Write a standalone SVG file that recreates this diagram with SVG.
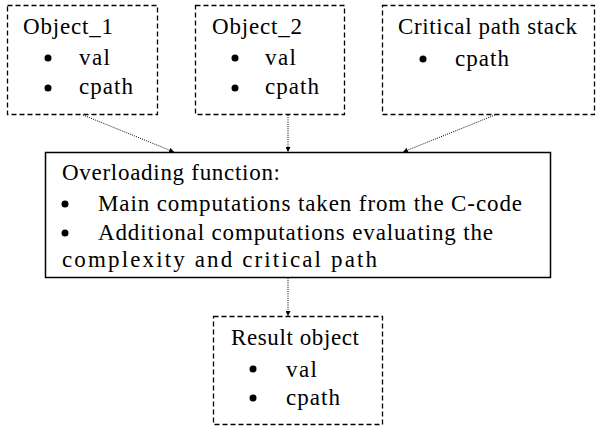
<svg xmlns="http://www.w3.org/2000/svg" width="600" height="426" viewBox="0 0 600 426">
  <style>
    .dash { fill: #fff; stroke: #000; stroke-width: 1.3; stroke-dasharray: 5 3; }
    .solid { fill: #fff; stroke: #000; stroke-width: 1.5; }
    .t { font-family: 'Liberation Serif', 'Times New Roman', serif; font-size: 23px; fill: #000; }
    .link { fill: none; stroke: #000; stroke-width: 1; stroke-dasharray: 1 1.2; }
  </style>
  <defs>
    <marker id="arrow" viewBox="0 0 10 10" refX="10" refY="5" markerWidth="5" markerHeight="5" orient="auto" markerUnits="userSpaceOnUse">
      <path d="M0,0 L10,5 L0,10 z" fill="#000"/>
    </marker>
  </defs>
  <rect width="600" height="426" fill="#fff"/>

  <g id="object1">
    <rect class="dash" x="7.5" y="5.5" width="150" height="109"/>
    <text class="t" x="23" y="34" textLength="90" lengthAdjust="spacing">Object_1</text>
    <circle cx="48" cy="58" r="3.5"/>
    <text class="t" x="79" y="65" textLength="31" lengthAdjust="spacing">val</text>
    <circle cx="48" cy="88" r="3.5"/>
    <text class="t" x="79" y="94" textLength="54" lengthAdjust="spacing">cpath</text>
  </g>

  <g id="object2">
    <rect class="dash" x="195.5" y="5.5" width="149" height="109"/>
    <text class="t" x="212" y="34" textLength="90" lengthAdjust="spacing">Object_2</text>
    <circle cx="235" cy="58" r="3.5"/>
    <text class="t" x="265" y="65" textLength="31" lengthAdjust="spacing">val</text>
    <circle cx="235" cy="88" r="3.5"/>
    <text class="t" x="265" y="94" textLength="54" lengthAdjust="spacing">cpath</text>
  </g>

  <g id="cpath-stack">
    <rect class="dash" x="382.5" y="5.5" width="212" height="109"/>
    <text class="t" x="398" y="34" textLength="179" lengthAdjust="spacing">Critical path stack</text>
    <circle cx="423" cy="59" r="3.5"/>
    <text class="t" x="455" y="66" textLength="54" lengthAdjust="spacing">cpath</text>
  </g>

  <g id="overloading">
    <rect class="solid" x="45.5" y="152.5" width="505" height="125"/>
    <text class="t" x="62" y="180" textLength="218" lengthAdjust="spacing">Overloading function:</text>
    <circle cx="65" cy="204" r="3.5"/>
    <text class="t" x="98" y="211" textLength="424" lengthAdjust="spacing">Main computations taken from the C-code</text>
    <circle cx="65" cy="233" r="3.5"/>
    <text class="t" x="98" y="240" textLength="395" lengthAdjust="spacing">Additional computations evaluating the</text>
    <text class="t" x="62" y="267" textLength="315" lengthAdjust="spacing">complexity and critical path</text>
  </g>

  <g id="result">
    <rect class="dash" x="213.5" y="316.5" width="169" height="108"/>
    <text class="t" x="231" y="345" textLength="128" lengthAdjust="spacing">Result object</text>
    <circle cx="253" cy="369" r="3.5"/>
    <text class="t" x="286" y="377" textLength="31" lengthAdjust="spacing">val</text>
    <circle cx="253" cy="398" r="3.5"/>
    <text class="t" x="286" y="405" textLength="54" lengthAdjust="spacing">cpath</text>
  </g>

  <g id="connectors">
    <line class="link" x1="83" y1="115" x2="174" y2="152" marker-end="url(#arrow)"/>
    <line class="link" x1="288" y1="115" x2="288" y2="152" marker-end="url(#arrow)"/>
    <line class="link" x1="495" y1="115" x2="403" y2="152" marker-end="url(#arrow)"/>
    <line class="link" x1="288" y1="278" x2="288" y2="316" marker-end="url(#arrow)"/>
  </g>
</svg>
